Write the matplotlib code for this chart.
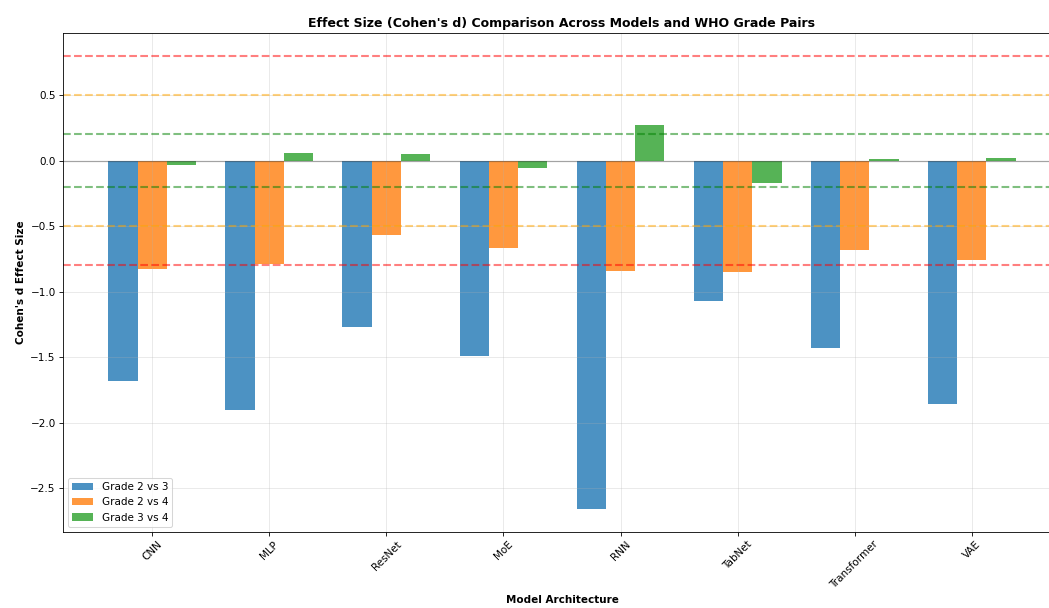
import numpy as np
import matplotlib
matplotlib.use("Agg")
import matplotlib.pyplot as plt

# data
models = ["CNN", "MLP", "ResNet", "MoE", "RNN", "TabNet", "Transformer", "VAE"]
grade_2v3 = [-1.68, -1.90, -1.27, -1.49, -2.66, -1.07, -1.43, -1.86]
grade_2v4 = [-0.83, -0.79, -0.57, -0.67, -0.84, -0.85, -0.68, -0.76]
grade_3v4 = [-0.03, 0.06, 0.05, -0.06, 0.27, -0.17, 0.01, 0.02]

thresholds = {0.2: "green", 0.5: "orange", 0.8: "red"}

fig = plt.figure(figsize=(1049/75, 608/75), dpi=75)
ax = fig.add_axes([63/1049, 76/608, 998/1049, 499/608])

x = np.arange(len(models))
w = 0.25
ax.bar(x - w, grade_2v3, w, label="Grade 2 vs 3", color="tab:blue", alpha=0.8)
ax.bar(x, grade_2v4, w, label="Grade 2 vs 4", color="tab:orange", alpha=0.8)
ax.bar(x + w, grade_3v4, w, label="Grade 3 vs 4", color="tab:green", alpha=0.8)

ax.axhline(0, color="black", linewidth=1.2, alpha=0.3)
for t, c in thresholds.items():
    ax.axhline(t, color=c, linestyle="--", alpha=0.5, linewidth=2)
    ax.axhline(-t, color=c, linestyle="--", alpha=0.5, linewidth=2)

ax.set_xticks(x)
ax.set_xticklabels(models, rotation=45)
ax.set_xlabel("Model Architecture", fontweight="bold")
ax.set_ylabel("Cohen's d Effect Size", fontweight="bold")
ax.set_title("Effect Size (Cohen's d) Comparison Across Models and WHO Grade Pairs",
             fontweight="bold", fontsize=12)
ax.legend(loc="lower left")
ax.grid(True, alpha=0.3)

plt.savefig("out.png", dpi=75)
